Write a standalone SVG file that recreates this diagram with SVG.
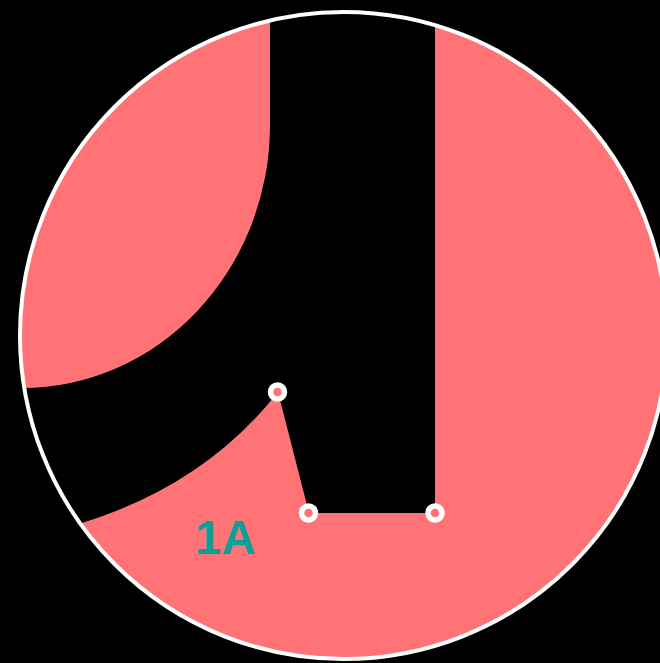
<svg xmlns="http://www.w3.org/2000/svg" width="660" height="663" viewBox="0 0 660 663">
  <style>
    .node circle { fill: #ff7276; stroke: #ffffff; stroke-width: 5.5; }
    .label { font-family: "Liberation Sans", Arial, sans-serif; font-weight: bold; font-size: 47.5px; fill: #0aa098; }
  </style>
  <defs>
    <clipPath id="disc">
      <circle cx="343.5" cy="335.5" r="323.5"/>
    </clipPath>
  </defs>
  <rect width="660" height="663" fill="#000000"/>
  <g id="disc-fill">
    <circle cx="343.5" cy="335.5" r="323.5" fill="#ff7276"/>
  </g>
  <g id="corridor" clip-path="url(#disc)">
    <path d="M270,-10 L270,125 A248,263 0 0 1 22,388 L-10,388 L-10,560 L82,523 Q205,485 278,392 L309,513 L435,513 L435,-10 Z" fill="#000000"/>
  </g>
  <g id="rim">
    <circle cx="343.5" cy="335.5" r="323.5" fill="none" stroke="#ffffff" stroke-width="4"/>
  </g>
  <g id="connectors"></g>
  <g id="node-a" class="node"><circle cx="277.5" cy="392" r="7"/></g>
  <g id="node-b" class="node"><circle cx="308.5" cy="513" r="7"/></g>
  <g id="node-c" class="node"><circle cx="435" cy="513" r="7"/></g>
  <g id="label-1a"><text class="label" x="195" y="554">1A</text></g>
</svg>
